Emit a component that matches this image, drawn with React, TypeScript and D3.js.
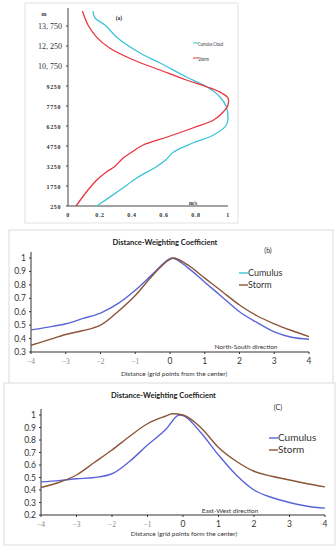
import * as d3 from 'd3';

// panel (a): vertical wind profile
const heights = [250, 1450, 2200, 2800, 3200, 3850, 4300, 4825, 5425, 6100, 6700, 7300, 7825, 8350, 8725, 9175, 9700, 10450, 11200, 12100, 12900, 13825, 14875];
const stormA = [0.05, 0.125, 0.18, 0.24, 0.29, 0.345, 0.4, 0.47, 0.62, 0.78, 0.91, 0.97, 1.0, 1.0, 0.96, 0.87, 0.74, 0.575, 0.41, 0.26, 0.18, 0.125, 0.09];
const heightsC = [250, 1450, 2350, 3175, 3700, 4300, 4975, 5575, 6325, 6850, 7675, 8425, 9175, 9925, 10975, 11725, 12850, 13825, 14350, 14875];
const cumulusA = [0.18, 0.325, 0.43, 0.55, 0.61, 0.66, 0.78, 0.91, 0.99, 1.0, 0.99, 0.95, 0.87, 0.74, 0.575, 0.45, 0.31, 0.231, 0.169, 0.156];
const aYTicks = [250, 1750, 3250, 4750, 6250, 7750, 9250, 10750, 12250, 13750];
const aYLabels = ['250', '1750', '3250', '4750', '6250', '7750', '9250', '10, 750', '12, 250', '13, 750'];
const aXTicks = [0, 0.2, 0.4, 0.6, 0.8, 1];

// panel (b): north-south
const distB = [-4, -3.5, -3, -2.5, -2, -1.5, -1, -0.5, 0, 0.05, 0.5, 1, 1.5, 2, 2.5, 3, 3.5, 4];
const cumulusB = [0.465, 0.485, 0.51, 0.55, 0.59, 0.66, 0.76, 0.88, 0.995, 1.0, 0.93, 0.82, 0.71, 0.6, 0.52, 0.45, 0.41, 0.395];
const distBS = [-4, -3.5, -3, -2.5, -2.2, -2, -1.5, -1, -0.5, 0, 0.1, 0.5, 1, 1.5, 2, 2.5, 3, 3.5, 4];
const stormB = [0.35, 0.39, 0.43, 0.46, 0.48, 0.5, 0.6, 0.72, 0.87, 0.99, 1.0, 0.95, 0.85, 0.75, 0.65, 0.57, 0.51, 0.46, 0.415];

// panel (c): east-west
const distC = [-4, -3.5, -3, -2.5, -2, -1.5, -1, -0.5, -0.1, 0, 0.5, 1, 1.5, 2, 2.5, 3, 3.5, 4];
const cumulusC = [0.465, 0.475, 0.49, 0.5, 0.53, 0.63, 0.76, 0.88, 1.0, 0.995, 0.86, 0.68, 0.52, 0.4, 0.34, 0.3, 0.27, 0.255];
const distCS = [-4, -3.5, -3, -2.5, -2, -1.5, -1, -0.5, -0.3, 0, 0.5, 1, 1.5, 2, 2.5, 3, 3.5, 4];
const stormC = [0.42, 0.46, 0.52, 0.62, 0.72, 0.83, 0.93, 0.99, 1.01, 1.0, 0.9, 0.74, 0.63, 0.55, 0.51, 0.48, 0.45, 0.425];

const distTicks = [-4, -3, -2, -1, 0, 1, 2, 3, 4];
const bYTicks = [0.3, 0.4, 0.5, 0.6, 0.7, 0.8, 0.9, 1];
const cYTicks = [0.2, 0.3, 0.4, 0.5, 0.6, 0.7, 0.8, 0.9, 1];

const CYAN = '#3cc4d8';
const RED = '#e8343f';
const BLUE = '#5a64d8';
const BROWN = '#8b5538';
const SANS = 'Lato, "Open Sans", "Liberation Sans", sans-serif';
const SERIF = '"Liberation Serif", "DejaVu Serif", serif';

function PanelA() {
  const x = d3.scaleLinear().domain([0, 1]).range([68, 228]);
  const y = d3.scaleLinear().domain([250, 13750]).range([206, 26]);
  const line = (vals: number[], hs: number[]) =>
    d3.line<number>().x(d => x(d)).y((_, i) => y(hs[i])).curve(d3.curveCatmullRom)(vals) || '';
  return (
    <g>
      <rect x={25} y={3} width={213} height={220} fill="#fff" stroke="#e2e2e2" />
      <line x1={68} x2={68} y1={8} y2={206} stroke="#444" strokeWidth={1} />
      <line x1={68} x2={228} y1={206} y2={206} stroke="#444" strokeWidth={1} />
      {aYTicks.map((t, i) => (
        <g key={t}>
          <line x1={66} x2={68} y1={y(t)} y2={y(t)} stroke="#444" />
          <text x={i >= 7 ? 62 : 61} y={y(t) + 2.5} textAnchor="end" fontFamily={SERIF}
            fontSize={i >= 7 ? 8 : 6} fontWeight={i >= 7 ? 'normal' : 'bold'} letterSpacing={i >= 7 ? 0 : 0.6} fill="#333">
            {aYLabels[i]}
          </text>
        </g>
      ))}
      <text x={44} y={16} textAnchor="middle" fontFamily={SERIF} fontSize={6} fontWeight="bold" fill="#333">m</text>
      {aXTicks.map(t => (
        <text key={t} x={x(t)} y={217} textAnchor="middle" fontFamily={SERIF} fontSize={6} fontWeight="bold" letterSpacing={0.6} fill="#333">
          {t === 0 || t === 1 ? String(t) : t.toFixed(1)}
        </text>
      ))}
      <text x={193} y={205} textAnchor="middle" fontFamily={SERIF} fontSize={5.5} fontWeight="bold" fill="#333">m/s</text>
      <text x={119} y={20} textAnchor="middle" fontFamily={SERIF} fontSize={5.5} fontWeight="bold" fill="#333">(a)</text>
      <path d={line(cumulusA, heightsC)} fill="none" stroke={CYAN} strokeWidth={1.3} />
      <path d={line(stormA, heights)} fill="none" stroke={RED} strokeWidth={1.3} />
      <line x1={193} x2={198} y1={43} y2={43} stroke={CYAN} strokeWidth={1} />
      <text x={198} y={45.5} fontFamily={SANS} fontSize={6.5} fill="#333" textLength={25} lengthAdjust="spacingAndGlyphs">Cumulus Cloud</text>
      <line x1={193} x2={198} y1={58} y2={58} stroke={RED} strokeWidth={1} />
      <text x={198} y={60.5} fontFamily={SANS} fontSize={6.5} fill="#333" textLength={11} lengthAdjust="spacingAndGlyphs">Storm</text>
    </g>
  );
}

interface PanelProps {
  box: [number, number, number, number];
  xr: [number, number];
  yd: [number, number];
  yr: [number, number];
  axisTop: number;
  yTicks: number[];
  c: [number[], number[]];
  s: [number[], number[]];
  tag: string;
  tagPos: [number, number];
  dirText: string;
  dirPos: [number, number];
  xTitle: string;
  xTitleY: number;
  titleY: number;
  legX: number;
  legY: number;
  legFont: number;
  cLeg: string;
}

function DistPanel(p: PanelProps) {
  const x = d3.scaleLinear().domain([-4, 4]).range(p.xr);
  const y = d3.scaleLinear().domain(p.yd).range(p.yr);
  const mk = (xs: number[], vs: number[]) =>
    d3.line<number>().x((_, i) => x(xs[i])).y(d => y(d)).curve(d3.curveMonotoneX)(vs) || '';
  const [bx, by, bw, bh] = p.box;
  const base = p.yr[0];
  return (
    <g>
      <rect x={bx} y={by} width={bw} height={bh} fill="#fff" stroke="#dcdcdc" />
      <text x={bx + bw / 2 - 6} y={p.titleY} textAnchor="middle" fontFamily={SANS} fontSize={7.5} fontWeight="bold" fill="#222">
        Distance-Weighting Coefficient
      </text>
      <line x1={p.xr[0]} x2={p.xr[0]} y1={p.axisTop} y2={base} stroke="#333" />
      <line x1={p.xr[0]} x2={p.xr[1]} y1={base} y2={base} stroke="#333" />
      {p.yTicks.map(t => (
        <g key={t}>
          <line x1={p.xr[0] - 2} x2={p.xr[0]} y1={y(t)} y2={y(t)} stroke="#333" />
          <text x={p.xr[0] - 5} y={y(t) + 3} textAnchor="end" fontFamily={SANS} fontSize={8.5} fill="#333">
            {String(t)}
          </text>
        </g>
      ))}
      {distTicks.map(t => (
        <g key={t}>
          <line x1={x(t)} x2={x(t)} y1={base} y2={base + 2} stroke="#333" />
          <text x={x(t)} y={base + 12} textAnchor="middle" fontFamily={t < 0 ? SERIF : SANS}
            fontSize={t < 0 ? 7.5 : 8.5} fill={t < 0 ? '#888' : '#333'}>
            {t < 0 ? `\u2212${-t}` : String(t)}
          </text>
        </g>
      ))}
      <text x={p.xr[0] + 143} y={p.xTitleY} textAnchor="middle" fontFamily={SANS} fontSize={6.5} fill="#333">{p.xTitle}</text>
      <text x={p.dirPos[0]} y={p.dirPos[1]} textAnchor="middle" fontFamily={SANS} fontSize={6.5} fill="#333">{p.dirText}</text>
      <text x={p.tagPos[0]} y={p.tagPos[1]} textAnchor="middle" fontFamily={SANS} fontSize={7} fill="#333">{p.tag}</text>
      <path d={mk(p.c[0], p.c[1])} fill="none" stroke={BLUE} strokeWidth={1.4} />
      <path d={mk(p.s[0], p.s[1])} fill="none" stroke={BROWN} strokeWidth={1.4} />
      <line x1={p.legX - 9} x2={p.legX} y1={p.legY} y2={p.legY} stroke={p.cLeg} strokeWidth={1.4} />
      <text x={p.legX} y={p.legY + 3.2} fontFamily={SANS} fontSize={p.legFont} fill="#333">Cumulus</text>
      <line x1={p.legX - 9} x2={p.legX} y1={p.legY + 12} y2={p.legY + 12} stroke={BROWN} strokeWidth={1.4} />
      <text x={p.legX} y={p.legY + 15.2} fontFamily={SANS} fontSize={p.legFont} fill="#333">Storm</text>
    </g>
  );
}

export default function App() {
  return (
    <svg width={336} height={550} style={{ position: 'absolute', left: 0, top: 0, background: '#fff' }}>
      <PanelA />
      <DistPanel box={[9, 230, 324, 154]} xr={[31, 309]} yd={[0.3, 1]} yr={[352, 258]} axisTop={252}
        yTicks={bYTicks} c={[distB, cumulusB]} s={[distBS, stormB]} tag="(b)" tagPos={[268, 253]}
        dirText="North-South direction" dirPos={[246, 349]} xTitle="Distance (grid points from the center)"
        xTitleY={376} titleY={245} legX={248} legY={273} legFont={9} cLeg={CYAN} />
      <DistPanel box={[4, 383, 331, 162]} xr={[41, 325]} yd={[0.2, 1]} yr={[515, 415]} axisTop={409}
        yTicks={cYTicks} c={[distC, cumulusC]} s={[distCS, stormC]} tag="(C)" tagPos={[278, 410]}
        dirText="East-West direction" dirPos={[230, 513]} xTitle="Distance (grid points form the center)"
        xTitleY={536} titleY={398} legX={278} legY={438} legFont={10} cLeg={BLUE} />
    </svg>
  );
}
